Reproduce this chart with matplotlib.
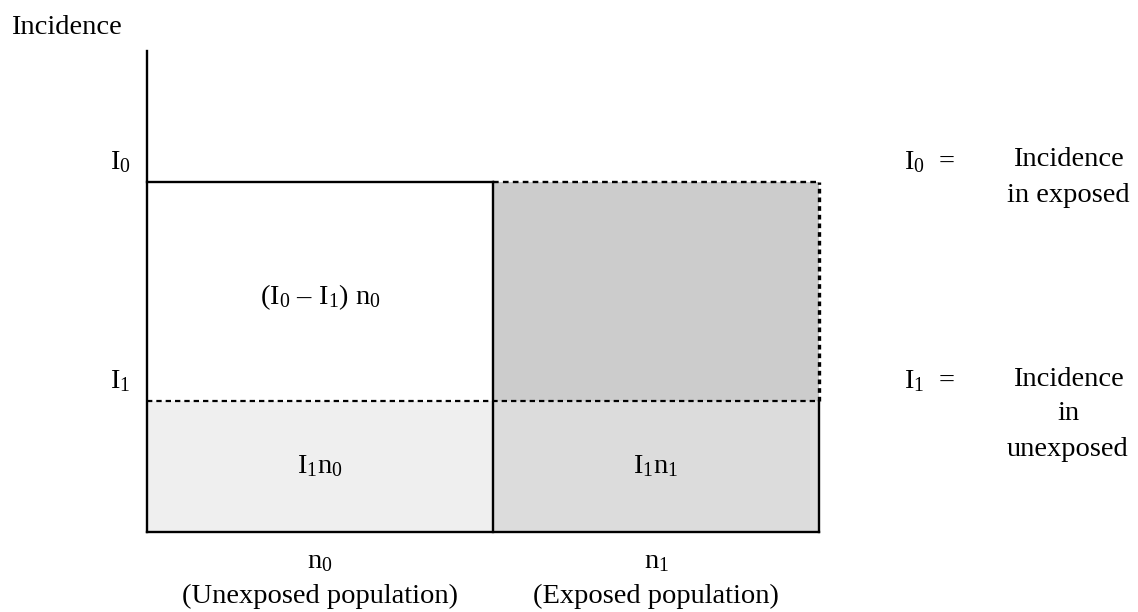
import matplotlib
matplotlib.use("Agg")
import matplotlib.pyplot as plt
from matplotlib.patches import Rectangle

plt.rcParams['font.family'] = ['Liberation Serif', 'DejaVu Serif']
plt.rcParams['mathtext.fontset'] = 'custom'
plt.rcParams['mathtext.rm'] = 'Liberation Serif'
plt.rcParams['mathtext.default'] = 'regular'

# population widths (n0, n1) and incidence levels (I0, I1)
widths = [1.0, 0.94]
levels = [1.0, 0.375]
y_top = 1.374

col_labels = ["n$_0$", "n$_1$"]
col_names = ["(Unexposed population)", "(Exposed population)"]
cell_labels = ["(I$_0$ – I$_1$) n$_0$", "I$_1$n$_0$", "I$_1$n$_1$"]

n0, n1 = widths
I0, I1 = levels
fs = 20.5

fig = plt.figure(figsize=(11.38, 6.12), dpi=100)
ax = fig.add_axes([147/1138, (612-532)/612, (819-147)/1138, (532-51)/612])
ax.set_xlim(0, n0 + n1)
ax.set_ylim(0, y_top)
for s in ['top', 'right']:
    ax.spines[s].set_visible(False)
for s in ['left', 'bottom']:
    ax.spines[s].set_linewidth(1.7)
    ax.spines[s].set_zorder(5)
ax.set_xticks([])
ax.set_yticks([])

# shaded areas
ax.add_patch(Rectangle((0, 0), n0, I1, facecolor='#efefef', edgecolor='none'))
ax.add_patch(Rectangle((n0, 0), n1, I1, facecolor='#dcdcdc', edgecolor='none'))
ax.add_patch(Rectangle((n0, I1), n1, I0 - I1, facecolor='#cccccc', edgecolor='none'))

# box lines
kw = dict(color='black', clip_on=False)
ax.plot([0, n0], [I0, I0], lw=1.7, **kw)
ax.plot([n0, n0 + n1], [I0, I0], lw=1.7, ls=(0, (2.4, 1.8)), **kw)
ax.plot([0, n0 + n1], [I1, I1], lw=1.6, ls=(0, (2.4, 1.8)), **kw)
ax.plot([n0, n0], [0, I0], lw=1.7, **kw)
ax.plot([n0 + n1, n0 + n1], [0, I1], lw=1.7, **kw)
ax.plot([n0 + n1, n0 + n1], [I1, I0], lw=2.4, ls=(0, (1.4, 1.2)), **kw)

# cell labels
ax.text(n0 / 2, (I0 + I1) / 2 - 0.016, cell_labels[0], ha='center', va='center', fontsize=fs)
ax.text(n0 / 2, I1 / 2, cell_labels[1], ha='center', va='center', fontsize=fs)
ax.text(n0 + n1 / 2, I1 / 2, cell_labels[2], ha='center', va='center', fontsize=fs)

# y level labels
ax.annotate("I$_0$", xy=(0, I0), xytext=(-27, 20), textcoords='offset pixels',
            ha='center', va='center', fontsize=fs, annotation_clip=False)
ax.annotate("I$_1$", xy=(0, I1), xytext=(-27, 20), textcoords='offset pixels',
            ha='center', va='center', fontsize=fs, annotation_clip=False)

# x labels
for xc, lab, name in zip([n0 / 2, n0 + n1 / 2], col_labels, col_names):
    ax.annotate(lab, xy=(xc, 0), xytext=(0, -30), textcoords='offset pixels',
                ha='center', va='center', fontsize=fs, annotation_clip=False)
    ax.annotate(name, xy=(xc, 0), xytext=(0, -64), textcoords='offset pixels',
                ha='center', va='center', fontsize=fs, annotation_clip=False)

fig.text(11/1138, 1 - 27/612, "Incidence", ha='left', va='center', fontsize=fs)

# definitions on the right
fig.text(930/1138, 1 - 162/612, "I$_0$  =", ha='center', va='center', fontsize=fs)
fig.text(1068/1138, 1 - 160/612, "Incidence", ha='center', va='center', fontsize=fs)
fig.text(1068/1138, 1 - 196/612, "in exposed", ha='center', va='center', fontsize=fs)
fig.text(930/1138, 1 - 381/612, "I$_1$  =", ha='center', va='center', fontsize=fs)
fig.text(1068/1138, 1 - 379/612, "Incidence", ha='center', va='center', fontsize=fs)
fig.text(1068/1138, 1 - 414/612, "in", ha='center', va='center', fontsize=fs)
fig.text(1068/1138, 1 - 449/612, "unexposed", ha='center', va='center', fontsize=fs)

fig.savefig("out.png", dpi=100)
